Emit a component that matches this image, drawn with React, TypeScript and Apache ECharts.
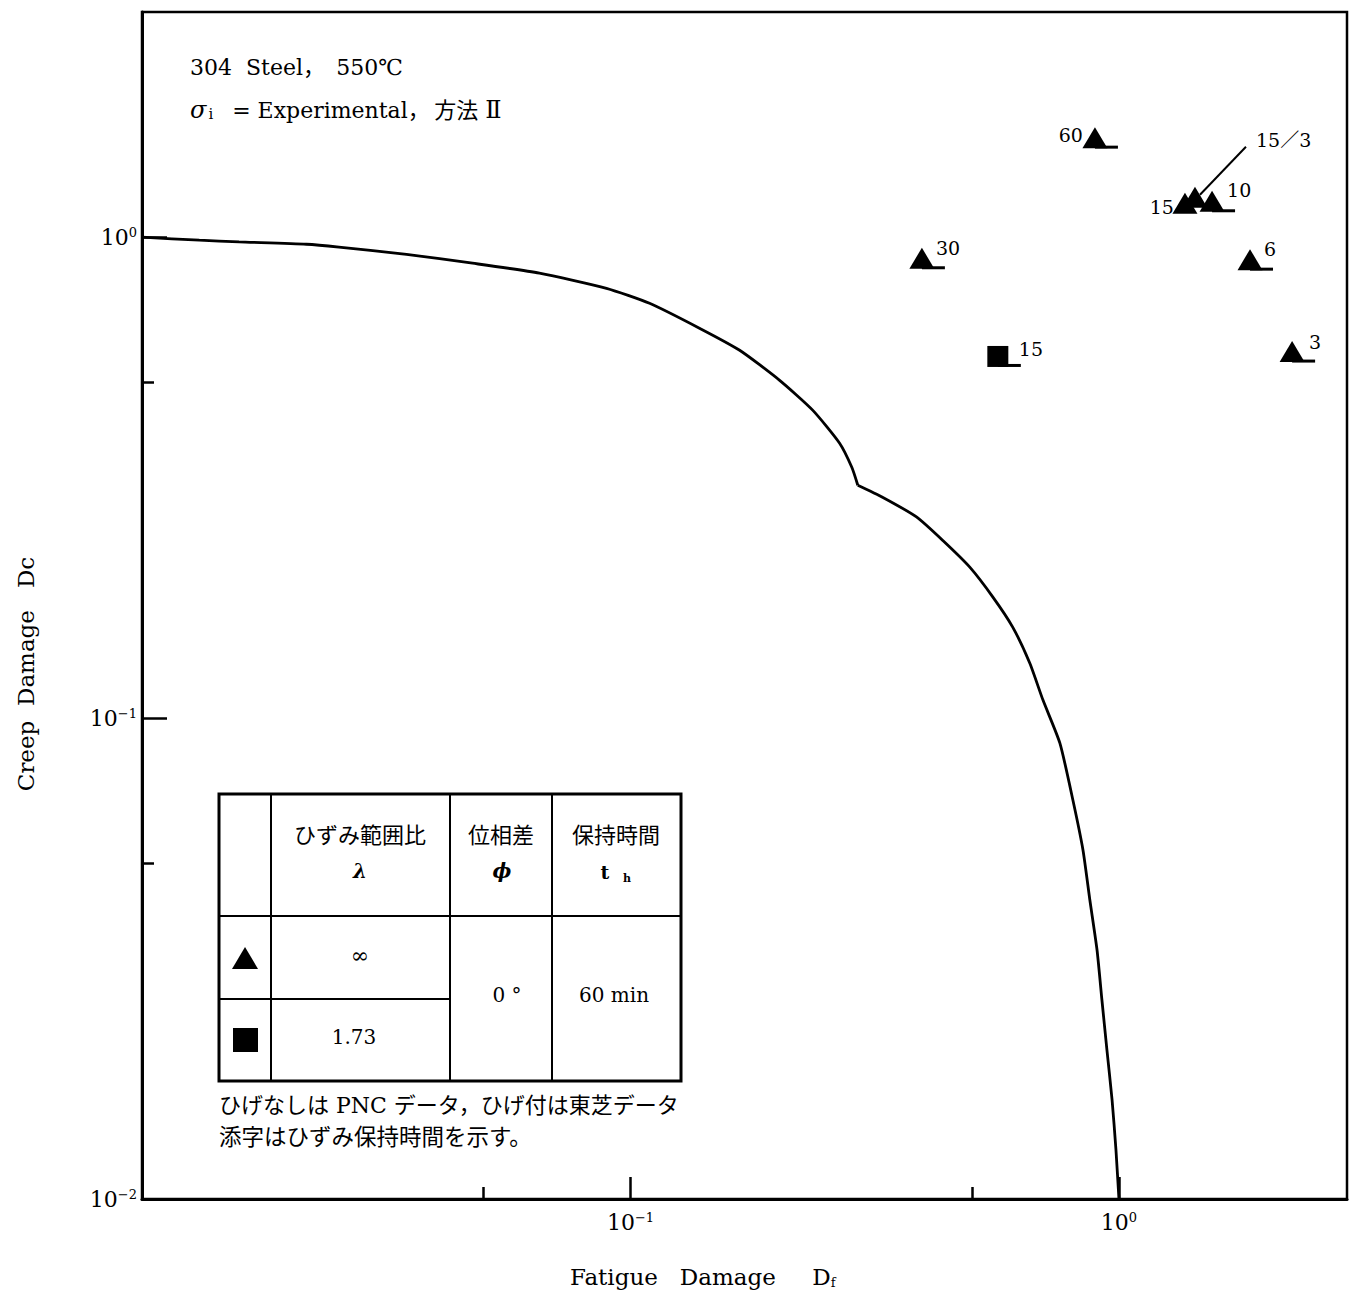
import React, { useEffect, useRef } from "react";
import * as echarts from "echarts";

const SERIF = '"DejaVu Serif", "Noto Sans CJK JP", serif';
const CJK = '"Noto Sans CJK JP", "DejaVu Serif", sans-serif';

// Creep-fatigue damage envelope (Df, Dc)
const envelopeFatigue = [
  0.01, 0.0131, 0.0158, 0.0217, 0.0253, 0.0348, 0.0475, 0.0651, 0.0893, 0.1094,
  0.1384, 0.1673, 0.202, 0.236, 0.268, 0.284, 0.292, 0.328, 0.385, 0.436,
  0.495, 0.552, 0.606, 0.657, 0.699, 0.757, 0.805, 0.844, 0.872, 0.902,
  0.923, 0.945, 0.968, 0.986, 1.0,
];
const envelopeCreep = [
  1.0, 0.986, 0.978, 0.967, 0.954, 0.921, 0.883, 0.842, 0.783, 0.729,
  0.647, 0.582, 0.504, 0.437, 0.373, 0.332, 0.305, 0.288, 0.262, 0.234,
  0.206, 0.1785, 0.1546, 0.13, 0.109, 0.0887, 0.0675, 0.0532, 0.0418, 0.0329,
  0.0259, 0.0204, 0.0161, 0.01265, 0.01,
];
// index of the envelope's knee point
const kneeIndex = 16;

// Test results: hold time label (min), fatigue damage Df, creep damage Dc
const holdTimeLabels = ["60", "15", "15／3", "10", "30", "6", "3", "15"];
const fatigueDamage = [0.893, 1.365, 1.431, 1.551, 0.395, 1.855, 2.262, 0.565];
const creepDamage = [1.607, 1.174, 1.208, 1.185, 0.902, 0.896, 0.577, 0.565];
// λ = ∞ → triangle, λ = 1.73 → square
const strainRangeRatio = ["inf", "inf", "inf", "inf", "inf", "inf", "inf", "1.73"];
// whisker ("ひげ") marks Toshiba data, none marks PNC data
const isToshiba = [true, false, false, true, true, true, true, true];

// Axis tick values
const majorTicks = [0.1, 1];
const minorTicks = [0.05, 0.5];
const labelTicks = [0.01, 0.1, 1];

// Where each point's hold-time label sits relative to its marker
const labelPlacement = [
  { dx: -12, dy: -3, align: "right", leader: false },
  { dx: -11, dy: 3, align: "right", leader: false },
  { dx: 61, dy: -58, align: "left", leader: true },
  { dx: 15, dy: -12, align: "left", leader: false },
  { dx: 14, dy: -11, align: "left", leader: false },
  { dx: 14, dy: -11, align: "left", leader: false },
  { dx: 17, dy: -10, align: "left", leader: false },
  { dx: 21, dy: -7, align: "left", leader: false },
];

const powerLabel = (v: number) => {
  const e = Math.round(Math.log10(v));
  return `{b|10}{s|${e === 0 ? "0" : "−" + -e}}`;
};

const axisRich = {
  b: { fontFamily: SERIF, fontSize: 22, color: "#000" },
  s: { fontFamily: SERIF, fontSize: 13, color: "#000", verticalAlign: "top", lineHeight: 14 },
};

function textEl(text: string, x: number, y: number, size: number, family: string, align = "left", extra: any = {}) {
  const { style: extraStyle, ...rest } = extra;
  return {
    type: "text",
    silent: true,
    ...rest,
    style: {
      text,
      x,
      y,
      fill: "#000",
      fontFamily: family,
      fontSize: size,
      align,
      verticalAlign: "middle",
      textAlign: align,
      textVerticalAlign: "middle",
      ...(extraStyle || {}),
    },
  };
}

function lineEl(x1: number, y1: number, x2: number, y2: number, w: number) {
  return {
    type: "line",
    silent: true,
    shape: { x1, y1, x2, y2 },
    style: { stroke: "#000", lineWidth: w },
  };
}

function buildTable() {
  const L = 219, R = 681, T = 794, B = 1081;
  const c1 = 271, c2 = 450, c3 = 552;
  const r1 = 916, r2 = 999;
  const els: any[] = [
    { type: "rect", silent: true, shape: { x: L, y: T, width: R - L, height: B - T }, style: { fill: "#fff", stroke: "#000", lineWidth: 3 } },
    lineEl(c1, T, c1, B, 2),
    lineEl(c2, T, c2, B, 2),
    lineEl(c3, T, c3, B, 2),
    lineEl(L, r1, R, r1, 2),
    lineEl(L, r2, c2, r2, 2),
    textEl("ひずみ範囲比", 360, 833, 22, CJK, "center"),
    textEl("λ", 360, 871, 20, SERIF, "center", { style: { fontWeight: "bold", fontStyle: "italic" } }),
    textEl("位相差", 501, 833, 22, CJK, "center"),
    textEl("ϕ", 502, 871, 20, SERIF, "center", { style: { fontWeight: "bold", fontStyle: "italic" } }),
    textEl("保持時間", 616, 833, 22, CJK, "center"),
    textEl("t", 605, 872, 19, SERIF, "center", { style: { fontWeight: "bold" } }),
    textEl("h", 627, 878, 11, SERIF, "center", { style: { fontWeight: "bold" } }),
    {
      type: "polygon",
      silent: true,
      shape: { points: [[245, 947], [258, 969], [232, 969]] },
      style: { fill: "#000" },
    },
    { type: "rect", silent: true, shape: { x: 233, y: 1028, width: 25, height: 24 }, style: { fill: "#000" } },
    textEl("∞", 360, 955, 22, SERIF, "center"),
    textEl("1.73", 354, 1037, 20, SERIF, "center"),
    textEl("0 °", 507, 995, 20, SERIF, "center"),
    textEl("60 min", 614, 995, 20, SERIF, "center"),
    textEl("ひげなしは PNC データ，ひげ付は東芝データ", 219, 1105, 22, SERIF, "left"),
    textEl("添字はひずみ保持時間を示す。", 219, 1135, 22.5, CJK, "left"),
  ];
  return els;
}

export default function App() {
  const ref = useRef<HTMLDivElement>(null);

  useEffect(() => {
    if (!ref.current) return;
    const chart = echarts.init(ref.current, undefined, { renderer: "svg" });

    const envelope = envelopeFatigue.map((x, i) => [x, envelopeCreep[i]]);
    const upperBranch = envelope.slice(0, kneeIndex + 1);
    const lowerBranch = envelope.slice(kneeIndex);
    const points = fatigueDamage.map((x, i) => [x, creepDamage[i], i]);

    const axisCommon = {
      type: "log",
      logBase: 10,
      splitLine: { show: false },
      minorTick: { show: false },
    };

    const branchSeries = (data: number[][]) => ({
      type: "line",
      data,
      showSymbol: false,
      symbol: "none",
      smooth: 0.2,
      lineStyle: { color: "#000", width: 2.8 },
      silent: true,
      z: 2,
    });

    const option: any = {
      animation: false,
      backgroundColor: "#fff",
      grid: {
        left: 142,
        right: 4,
        top: 12,
        bottom: 100,
        show: true,
        borderColor: "#000",
        borderWidth: 2.5,
        backgroundColor: "transparent",
      },
      xAxis: [
        {
          ...axisCommon,
          position: "bottom",
          min: 0.01,
          max: 2.93,
          axisLine: { show: true, lineStyle: { color: "#000", width: 3 } },
          axisTick: { show: true, inside: true, length: 22, customValues: majorTicks, lineStyle: { color: "#000", width: 2.5 } },
          axisLabel: { show: true, margin: 12, customValues: labelTicks.slice(1), formatter: powerLabel, rich: axisRich },
        },
        {
          ...axisCommon,
          position: "bottom",
          min: 0.01,
          max: 2.93,
          axisLine: { show: false },
          axisTick: { show: true, inside: true, length: 12, customValues: minorTicks, lineStyle: { color: "#000", width: 2.5 } },
          axisLabel: { show: false },
        },
      ],
      yAxis: [
        {
          ...axisCommon,
          position: "left",
          min: 0.01,
          max: 2.94,
          axisLine: { show: true, lineStyle: { color: "#000", width: 3 } },
          axisTick: { show: true, inside: true, length: 25, customValues: majorTicks, lineStyle: { color: "#000", width: 2.5 } },
          axisLabel: { show: true, margin: 5, customValues: labelTicks, formatter: powerLabel, rich: axisRich },
        },
        {
          ...axisCommon,
          position: "left",
          min: 0.01,
          max: 2.94,
          axisLine: { show: false },
          axisTick: { show: true, inside: true, length: 12, customValues: minorTicks, lineStyle: { color: "#000", width: 2.5 } },
          axisLabel: { show: false },
        },
      ],
      series: [
        branchSeries(upperBranch),
        branchSeries(lowerBranch),
        {
          type: "custom",
          name: "tests",
          data: points,
          encode: { x: 0, y: 1 },
          z: 3,
          silent: true,
          renderItem: (params: any, api: any) => {
            const i = api.value(2);
            const [cx, cy] = api.coord([api.value(0), api.value(1)]);
            const children: any[] = [];
            if (strainRangeRatio[i] === "inf") {
              children.push({
                type: "polygon",
                shape: { points: [[cx, cy - 11], [cx + 12.5, cy + 10], [cx - 12.5, cy + 10]] },
                style: { fill: "#000" },
              });
            } else {
              children.push({
                type: "rect",
                shape: { x: cx - 10.5, y: cy - 10.5, width: 21, height: 21 },
                style: { fill: "#000" },
              });
            }
            if (isToshiba[i]) {
              children.push({
                type: "line",
                shape: { x1: cx, y1: cy + 9, x2: cx + 23, y2: cy + 9 },
                style: { stroke: "#000", lineWidth: 3 },
              });
            }
            const p = labelPlacement[i];
            if (p.leader) {
              children.push({
                type: "line",
                shape: { x1: cx + 5, y1: cy - 3, x2: cx + 51, y2: cy - 51 },
                style: { stroke: "#000", lineWidth: 2 },
              });
            }
            children.push({
              type: "text",
              style: {
                text: holdTimeLabels[i],
                x: cx + p.dx,
                y: cy + p.dy,
                fill: "#000",
                fontFamily: SERIF,
                fontSize: 19,
                align: p.align,
                verticalAlign: "middle",
              },
            });
            return { type: "group", children };
          },
        },
      ],
      graphic: [
        textEl("304  Steel， \u2009550℃", 190, 67, 22, SERIF, "left"),
        {
          type: "text",
          silent: true,
          style: {
            text: "{g|σ}{i|i}{t| = Experimental，\u2009方法 }{r|Ⅱ}",
            x: 190,
            y: 110,
            align: "left",
            verticalAlign: "middle",
            rich: {
              g: { fontFamily: SERIF, fontSize: 24, fontStyle: "italic", color: "#000" },
              i: { fontFamily: SERIF, fontSize: 15, color: "#000", verticalAlign: "bottom", padding: [0, 12, 0, 2] },
              t: { fontFamily: SERIF, fontSize: 22, color: "#000" },
              r: { fontFamily: SERIF, fontSize: 24, color: "#000" },
            },
          },
        },
        {
          type: "text",
          silent: true,
          style: {
            text: "{n|Fatigue   Damage     D}{f|f}",
            x: 570,
            y: 1277,
            align: "left",
            verticalAlign: "middle",
            rich: {
              n: { fontFamily: SERIF, fontSize: 23, color: "#000" },
              f: { fontFamily: SERIF, fontSize: 13, color: "#000", verticalAlign: "bottom" },
            },
          },
        },
        textEl("Creep  Damage   Dc", 0, 0, 23, SERIF, "center", { rotation: Math.PI / 2, x: 26, y: 674 }),
        ...buildTable(),
      ],
    };

    chart.setOption(option);
    return () => chart.dispose();
  }, []);

  return (
    <div
      ref={ref}
      style={{ position: "absolute", left: 0, top: 0, width: 1351, height: 1299, background: "#fff" }}
    />
  );
}
